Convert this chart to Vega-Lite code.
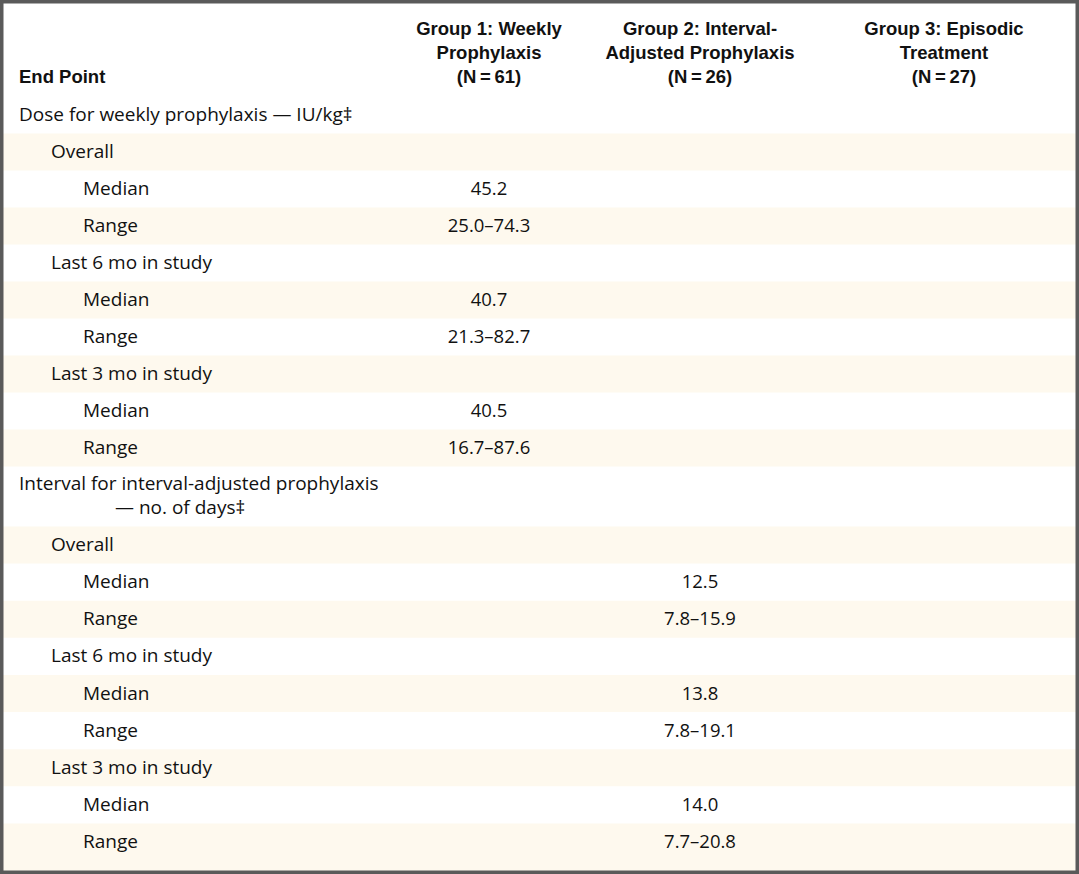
{
  "$schema": "https://vega.github.io/schema/vega-lite/v6.json",
  "width": 1079,
  "height": 874,
  "autosize": "none",
  "padding": 0,
  "background": "#ffffff",
  "config": {"view": {"stroke": null}},
  "datasets": {
    "cells": [
      {"row": -3, "col": 4, "kind": "header", "text": "Group 1: Weekly"},
      {"row": -2, "col": 4, "kind": "header", "text": "Prophylaxis"},
      {"row": -1, "col": 4, "kind": "header", "text": "(N\u2009=\u200961)"},
      {"row": -3, "col": 5, "kind": "header", "text": "Group 2: Interval-"},
      {"row": -2, "col": 5, "kind": "header", "text": "Adjusted Prophylaxis"},
      {"row": -1, "col": 5, "kind": "header", "text": "(N\u2009=\u200926)"},
      {"row": -3, "col": 6, "kind": "header", "text": "Group 3: Episodic"},
      {"row": -2, "col": 6, "kind": "header", "text": "Treatment"},
      {"row": -1, "col": 6, "kind": "header", "text": "(N\u2009=\u200927)"},
      {"row": -1, "col": 0, "kind": "headlabel", "text": "End Point"},
      {"row": 0, "col": 0, "kind": "label", "text": "Dose for weekly prophylaxis — IU/kg‡"},
      {"row": 1, "col": 1, "kind": "label", "text": "Overall"},
      {"row": 2, "col": 2, "kind": "label", "text": "Median"},
      {"row": 2, "col": 4, "kind": "value", "text": "45.2"},
      {"row": 3, "col": 2, "kind": "label", "text": "Range"},
      {"row": 3, "col": 4, "kind": "value", "text": "25.0–74.3"},
      {"row": 4, "col": 1, "kind": "label", "text": "Last 6 mo in study"},
      {"row": 5, "col": 2, "kind": "label", "text": "Median"},
      {"row": 5, "col": 4, "kind": "value", "text": "40.7"},
      {"row": 6, "col": 2, "kind": "label", "text": "Range"},
      {"row": 6, "col": 4, "kind": "value", "text": "21.3–82.7"},
      {"row": 7, "col": 1, "kind": "label", "text": "Last 3 mo in study"},
      {"row": 8, "col": 2, "kind": "label", "text": "Median"},
      {"row": 8, "col": 4, "kind": "value", "text": "40.5"},
      {"row": 9, "col": 2, "kind": "label", "text": "Range"},
      {"row": 9, "col": 4, "kind": "value", "text": "16.7–87.6"},
      {"row": 10, "col": 0, "kind": "label", "text": "Interval for interval-adjusted prophylaxis"},
      {"row": 11, "col": 3, "kind": "label", "text": "— no. of days‡"},
      {"row": 12, "col": 1, "kind": "label", "text": "Overall"},
      {"row": 13, "col": 2, "kind": "label", "text": "Median"},
      {"row": 13, "col": 5, "kind": "value", "text": "12.5"},
      {"row": 14, "col": 2, "kind": "label", "text": "Range"},
      {"row": 14, "col": 5, "kind": "value", "text": "7.8–15.9"},
      {"row": 15, "col": 1, "kind": "label", "text": "Last 6 mo in study"},
      {"row": 16, "col": 2, "kind": "label", "text": "Median"},
      {"row": 16, "col": 5, "kind": "value", "text": "13.8"},
      {"row": 17, "col": 2, "kind": "label", "text": "Range"},
      {"row": 17, "col": 5, "kind": "value", "text": "7.8–19.1"},
      {"row": 18, "col": 1, "kind": "label", "text": "Last 3 mo in study"},
      {"row": 19, "col": 2, "kind": "label", "text": "Median"},
      {"row": 19, "col": 5, "kind": "value", "text": "14.0"},
      {"row": 20, "col": 2, "kind": "label", "text": "Range"},
      {"row": 20, "col": 5, "kind": "value", "text": "7.7–20.8"}
    ],
    "stripes": [
      {"row": 1}, {"row": 3}, {"row": 5}, {"row": 7}, {"row": 9},
      {"row": 12}, {"row": 14}, {"row": 16}, {"row": 18}, {"row": 20}
    ]
  },
  "layer": [
    {
      "data": {"name": "cells"},
      "mark": {"type": "text", "opacity": 0},
      "encoding": {
        "x": {"field": "col", "type": "quantitative", "axis": null,
              "scale": {"domain": [0, 1, 2, 3, 4, 5, 6], "range": [19, 51, 83, 115, 489, 700, 944], "zero": false, "nice": false}},
        "y": {"field": "row", "type": "quantitative", "axis": null,
              "scale": {"domain": [-3, -1, 0, 9, 10, 11, 12, 20], "range": [29, 77, 115, 448, 484, 508, 545, 842], "zero": false, "nice": false}},
        "text": {"field": "text"}
      }
    },
    {
      "data": {"name": "stripes"},
      "mark": {"type": "rect", "color": "#FEF9EE", "yOffset": -18.5, "y2Offset": 18.5},
      "encoding": {
        "y": {"field": "row", "type": "quantitative"},
        "y2": {"field": "row"}
      }
    },
    {
      "data": {"name": "stripes"},
      "transform": [{"filter": "datum.row == 20"}],
      "mark": {"type": "rect", "color": "#FEF9EE", "yOffset": 0, "y2Offset": 30},
      "encoding": {
        "y": {"field": "row", "type": "quantitative"},
        "y2": {"field": "row"}
      }
    },
    {
      "data": {"name": "cells"},
      "transform": [{"filter": "datum.kind == 'label'"}],
      "mark": {"type": "text", "align": "left", "baseline": "middle", "font": "Open Sans", "fontSize": 19, "color": "#111111"},
      "encoding": {
        "x": {"field": "col", "type": "quantitative"},
        "y": {"field": "row", "type": "quantitative"},
        "text": {"field": "text"}
      }
    },
    {
      "data": {"name": "cells"},
      "transform": [{"filter": "datum.kind == 'value'"}],
      "mark": {"type": "text", "align": "center", "baseline": "middle", "font": "Open Sans", "fontSize": 18.5, "color": "#111111"},
      "encoding": {
        "x": {"field": "col", "type": "quantitative"},
        "y": {"field": "row", "type": "quantitative"},
        "text": {"field": "text"}
      }
    },
    {
      "data": {"name": "cells"},
      "transform": [{"filter": "datum.kind == 'header'"}],
      "mark": {"type": "text", "align": "center", "baseline": "middle", "font": "Liberation Sans", "fontWeight": "bold", "fontSize": 18.5, "color": "#111111"},
      "encoding": {
        "x": {"field": "col", "type": "quantitative"},
        "y": {"field": "row", "type": "quantitative"},
        "text": {"field": "text"}
      }
    },
    {
      "data": {"name": "cells"},
      "transform": [{"filter": "datum.kind == 'headlabel'"}],
      "mark": {"type": "text", "align": "left", "baseline": "middle", "font": "Liberation Sans", "fontWeight": "bold", "fontSize": 18.5, "color": "#111111"},
      "encoding": {
        "x": {"field": "col", "type": "quantitative"},
        "y": {"field": "row", "type": "quantitative"},
        "text": {"field": "text"}
      }
    },
    {
      "data": {"values": [{"frame": "table"}]},
      "mark": {"type": "rect", "fill": null, "stroke": "#5a5a5a", "strokeWidth": 7},
      "encoding": {}
    }
  ]
}
